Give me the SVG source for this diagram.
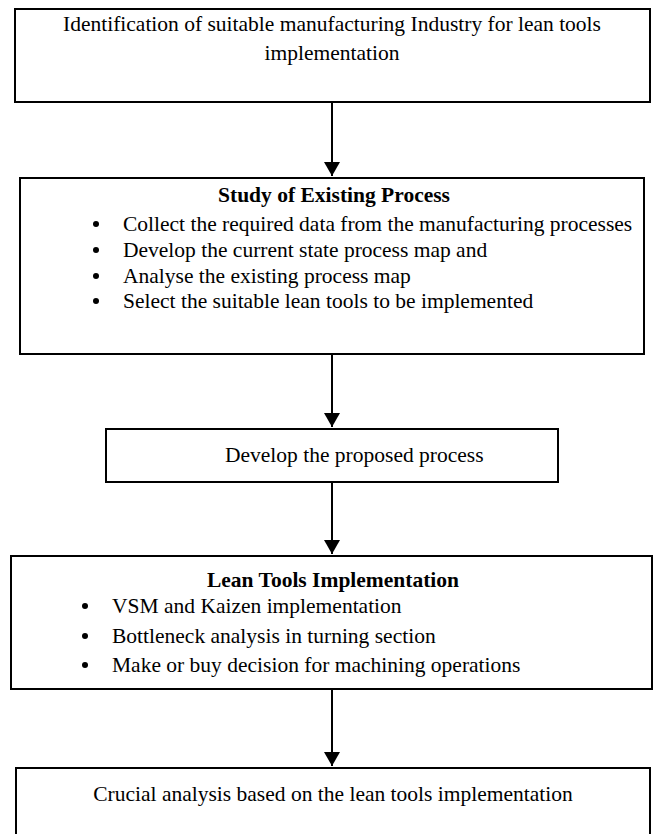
<svg xmlns="http://www.w3.org/2000/svg" width="653" height="834" viewBox="0 0 653 834">
<style>
.box{fill:#fff;stroke:#000;stroke-width:2}
.t{font-family:"Liberation Serif","Times New Roman",serif;font-size:21.5px;fill:#000}
.b{font-weight:bold}
.c{text-anchor:middle}
.edge{stroke:#000;stroke-width:2;fill:none}
</style>
<defs>
<marker id="ah" markerWidth="7" markerHeight="8" refX="7" refY="4" orient="auto" markerUnits="strokeWidth">
<path d="M0,0 L7,4 L0,8 Z" fill="#000"/>
</marker>
</defs>
<rect width="653" height="834" fill="#fff"/>
<g id="connectors">
<line class="edge" x1="332" y1="103" x2="332" y2="176" marker-end="url(#ah)"/>
<line class="edge" x1="332" y1="355" x2="332" y2="427" marker-end="url(#ah)"/>
<line class="edge" x1="332" y1="483" x2="332" y2="554" marker-end="url(#ah)"/>
<line class="edge" x1="332" y1="690" x2="332" y2="766" marker-end="url(#ah)"/>
</g>
<g id="n1">
<rect class="box" x="15" y="9" width="635" height="93"/>
<text class="t c" x="332" y="31">Identification of suitable manufacturing Industry for lean tools</text>
<text class="t c" x="332" y="60">implementation</text>
</g>
<g id="n2">
<rect class="box" x="20" y="178" width="624" height="176"/>
<text class="t b c" x="334" y="202">Study of Existing Process</text>
<circle cx="96" cy="224" r="3"/>
<text class="t" x="123" y="231">Collect the required data from the manufacturing processes</text>
<circle cx="96" cy="250" r="3"/>
<text class="t" x="123" y="257">Develop the current state process map  and</text>
<circle cx="96" cy="276" r="3"/>
<text class="t" x="123" y="283">Analyse the existing process map</text>
<circle cx="96" cy="301" r="3"/>
<text class="t" x="123" y="308">Select the suitable lean tools to be implemented</text>
</g>
<g id="n3">
<rect class="box" x="106" y="429" width="452" height="53"/>
<text class="t" x="225" y="462">Develop the proposed process</text>
</g>
<g id="n4">
<rect class="box" x="11" y="556" width="641" height="133"/>
<text class="t b c" x="333" y="587">Lean Tools Implementation</text>
<circle cx="85" cy="606" r="3"/>
<text class="t" x="112" y="613">VSM and Kaizen implementation</text>
<circle cx="85" cy="636" r="3"/>
<text class="t" x="112" y="643">Bottleneck analysis in turning section</text>
<circle cx="85" cy="665" r="3"/>
<text class="t" x="112" y="672">Make or buy decision for machining operations</text>
</g>
<g id="n5">
<rect class="box" x="16" y="768" width="634" height="80"/>
<text class="t c" x="333" y="801">Crucial analysis based on the lean tools implementation</text>
</g>
</svg>
